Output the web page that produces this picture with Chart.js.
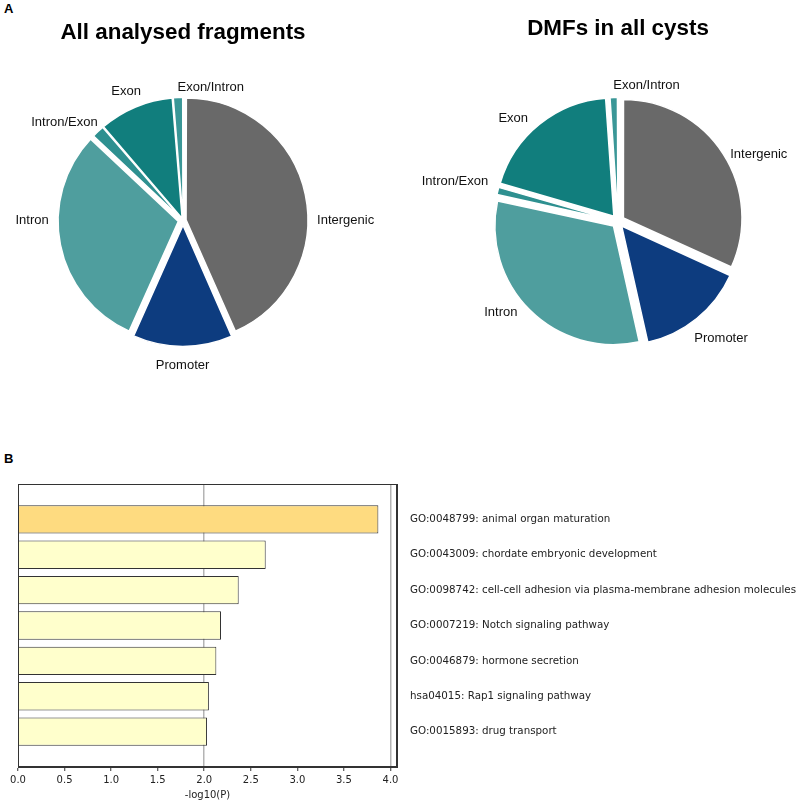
<!DOCTYPE html>
<html>
<head>
<meta charset="utf-8">
<script src="https://cdn.jsdelivr.net/npm/chart.js@4.4.0/dist/chart.umd.min.js"></script>
<style>
  body { margin: 0; background: #fff; }
  #wrap { position: relative; width: 800px; height: 803px; font-family: "Liberation Sans", Arial, sans-serif; }
  .box { position: absolute; }
  .panel { position: absolute; font-weight: bold; font-size: 13px; line-height: 13px; color: #000; }
</style>
</head>
<body>
<div id="wrap">
  <div class="panel" style="left:4px;top:2px">A</div>
  <div class="panel" style="left:4px;top:452px">B</div>
  <div class="box" style="left:0;top:0;width:400px;height:440px"><canvas id="pieAll"></canvas></div>
  <div class="box" style="left:400px;top:0;width:400px;height:440px"><canvas id="pieDmf"></canvas></div>
  <div class="box" style="left:0;top:470px;width:800px;height:333px"><canvas id="goBars"></canvas></div>
</div>
<script>
// Pie data (percent of fragments), clockwise from 12 o'clock
const regionLabels = ['Intergenic', 'Promoter', 'Intron', 'Intron/Exon', 'Exon', 'Exon/Intron'];
const allFragments = [43.4, 13.3, 30.3, 1.7, 10.0, 1.3];
const dmfsAllCysts = [31.8, 14.7, 31.9, 1.1, 19.4, 1.1];

// Enrichment data
const goTerms = [
    'GO:0048799: animal organ maturation',
    'GO:0043009: chordate embryonic development',
    'GO:0098742: cell-cell adhesion via plasma-membrane adhesion molecules',
    'GO:0007219: Notch signaling pathway',
    'GO:0046879: hormone secretion',
    'hsa04015: Rap1 signaling pathway',
    'GO:0015893: drug transport'
];
const goLogP = [3.87, 2.66, 2.37, 2.18, 2.13, 2.05, 2.03];

const regionColors = ['#696969', '#0d3c7f', '#4f9e9e', '#2e9090', '#117e7d', '#3a9797'];

// chart.js moves an arc by offset/4 * (2 - sin(angle)), so turn a wanted pixel shift into the option value
function arcOffsets(values, shift) {
    const total = values.reduce((a, b) => a + b, 0);
    return values.map((v, i) => {
        const circ = v / total * Math.PI * 2;
        return 4 * shift[i] / (2 - Math.sin(Math.min(Math.PI, circ)));
    });
}

function realShift(arc) {
    const off = (arc.options.offset || 0) / 4;
    const circ = arc.endAngle - arc.startAngle;
    return off * (2 - Math.sin(Math.min(Math.PI, circ)));
}

// labels outside each slice
const outerLabels = {
    id: 'outerLabels',
    afterDatasetsDraw(chart, args, opts) {
        const ctx = chart.ctx;
        const meta = chart.getDatasetMeta(0);
        const nudge = opts.nudge || [];
        ctx.save();
        ctx.font = '13px "Liberation Sans", Arial, sans-serif';
        ctx.fillStyle = '#111';
        ctx.textBaseline = 'middle';
        meta.data.forEach((arc, i) => {
            const p = arc.getProps(['x', 'y', 'startAngle', 'endAngle', 'outerRadius'], true);
            const mid = (p.startAngle + p.endAngle) / 2;
            const d = p.outerRadius + realShift(arc) + 12;
            const c = Math.cos(mid), s = Math.sin(mid);
            let x = p.x + c * d;
            let y = p.y + s * d;
            let align = c > 0.15 ? 'left' : c < -0.15 ? 'right' : (s < 0 ? 'left' : 'center');
            if (Math.abs(c) <= 0.15 && s > 0) y += 7;
            const n = nudge[i] || [0, 0];
            ctx.textAlign = align;
            ctx.fillText(chart.data.labels[i], x + n[0], y + n[1]);
        });
        ctx.restore();
    }
};

function makePie(id, title, values, shift, radius, titleTop, padLeft, padRight, padBottom, nudge) {
    return new Chart(document.getElementById(id), {
        type: 'pie',
        data: {
            labels: regionLabels,
            datasets: [{
                data: values,
                backgroundColor: regionColors,
                borderColor: '#ffffff',
                borderWidth: 1.5,
                offset: arcOffsets(values, shift),
                radius: radius
            }]
        },
        options: {
            responsive: true,
            maintainAspectRatio: false,
            animation: false,
            layout: { padding: { left: padLeft, right: padRight, top: 0, bottom: padBottom } },
            plugins: {
                legend: { display: false },
                tooltip: { enabled: false },
                title: {
                    display: true,
                    text: title,
                    color: '#000',
                    font: { family: '"Liberation Sans", Arial, sans-serif', size: 22.4, weight: 'bold' },
                    padding: { top: titleTop, bottom: 10 }
                },
                outerLabels: { nudge: nudge }
            }
        },
        plugins: [outerLabels]
    });
}

makePie('pieAll', 'All analysed fragments', allFragments, [5, 6, 5, 3, 3, 3], 120, 19.6, 0, 34, 55.6,
    [[0, 28], [0, 0], [0, -27], [8, 0], [10, -4], [0, 2]]);
makePie('pieDmf', 'DMFs in all cysts', dmfsAllCysts, [7, 7, 7, 6, 7, 6], 118, 15.6, 36, 0, 49.6,
    [[-3, 7], [-10, 11], [-4, -6], [2, -7], [-4, 4], [0, 0]]);

// box round the plot area
const frame = {
    id: 'frame',
    afterDraw(chart) {
        const { ctx, chartArea: a } = chart;
        const l = Math.round(a.left) + 0.5, t = Math.round(a.top) + 0.5;
        const r = Math.round(a.right) - 0.5, b = Math.round(a.bottom) - 0.5;
        ctx.save();
        ctx.strokeStyle = '#333';
        ctx.lineWidth = 1;
        ctx.strokeRect(l, t, r - l, b - t);
        ctx.restore();
    }
};

const tickFont = { family: '"DejaVu Sans", sans-serif', size: 10 };
const termFont = { family: '"DejaVu Sans", sans-serif', size: 10.3 };

new Chart(document.getElementById('goBars'), {
    type: 'bar',
    data: {
        datasets: [{
            data: goLogP.map((v, i) => ({ x: v, y: i })),
            backgroundColor: goLogP.map((v, i) => i === 0 ? '#fedb80' : '#ffffcc'),
            borderColor: '#333',
            borderWidth: 1,
            barPercentage: 0.8,
            categoryPercentage: 1
        }]
    },
    options: {
        indexAxis: 'y',
        responsive: true,
        maintainAspectRatio: false,
        animation: false,
        layout: { padding: { left: 18, top: 14, right: 0, bottom: 0 } },
        plugins: { legend: { display: false }, tooltip: { enabled: false } },
        scales: {
            x: {
                type: 'linear',
                position: 'bottom',
                min: 0,
                max: 4.07,
                ticks: {
                    stepSize: 0.5,
                    includeBounds: false,
                    maxRotation: 0,
                    padding: 3,
                    color: '#222',
                    font: tickFont,
                    callback: v => v.toFixed(1)
                },
                grid: {
                    color: c => (c.tick && (Math.abs(c.tick.value - 2) < 1e-6 || Math.abs(c.tick.value - 4) < 1e-6)) ? '#b4b4b4' : 'rgba(0,0,0,0)',
                    lineWidth: 1.5,
                    tickColor: '#333',
                    tickLength: 4,
                    tickWidth: 1
                },
                border: { color: '#333', width: 1 },
                title: { display: true, text: '-log10(P)', color: '#222', font: tickFont, padding: { top: 2, bottom: 2 } },
                afterFit: s => { s.height = 36; }
            },
            y: {
                type: 'linear',
                position: 'right',
                reverse: true,
                offset: false,
                min: -1,
                max: 7,
                ticks: {
                    stepSize: 1,
                    includeBounds: false,
                    autoSkip: false,
                    padding: 13,
                    color: '#222',
                    font: termFont,
                    callback: v => goTerms[v] || ''
                },
                grid: { drawOnChartArea: false, drawTicks: false },
                border: { display: true, color: '#333', width: 1 },
                afterFit: s => { s.width = 403; s.paddingTop = 0; s.paddingBottom = 0; }
            }
        }
    },
    plugins: [frame]
});
</script>
</body>
</html>
